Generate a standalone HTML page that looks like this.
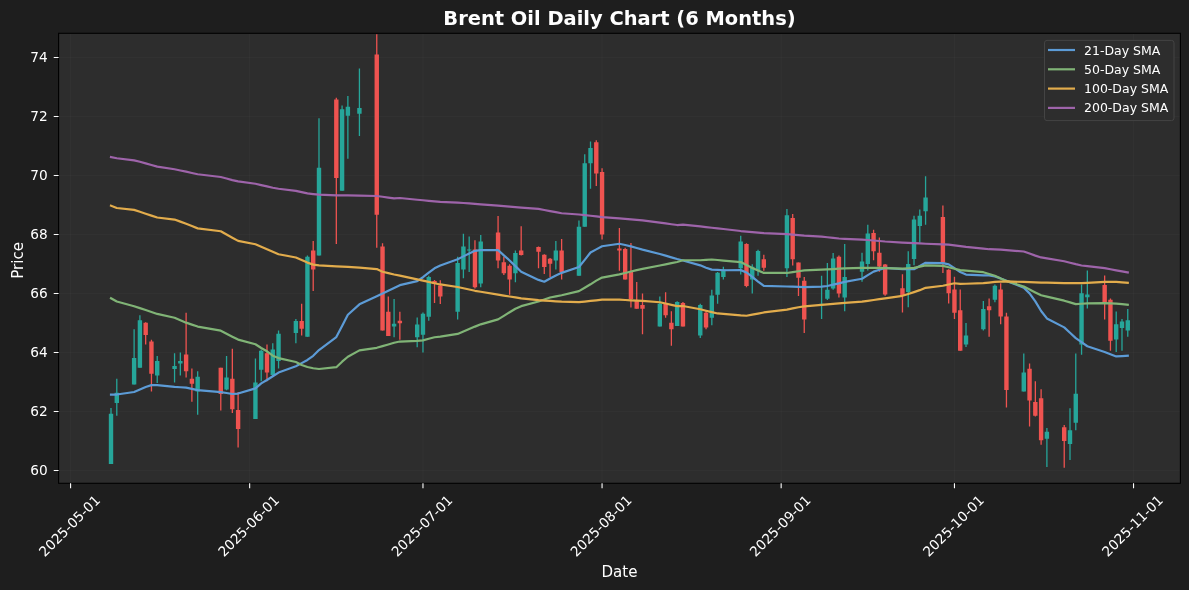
<!DOCTYPE html>
<html><head><meta charset="utf-8"><title>Brent Oil Daily Chart (6 Months)</title>
<style>html,body{margin:0;padding:0;background:#1e1e1e;overflow:hidden}svg{display:block;will-change:transform}</style></head>
<body><svg width="1189" height="590" viewBox="0 0 1189 590">
<rect x="0" y="0" width="1189" height="590" fill="#1e1e1e"/>
<rect x="58.6" y="33.3" width="1121.8" height="450" fill="#2d2d2d"/>
<defs><clipPath id="ax"><rect x="58.6" y="33.3" width="1121.8" height="450"/></clipPath></defs>
<path d="M70.58 33.3V483.3M249.66 33.3V483.3M422.97 33.3V483.3M602.06 33.3V483.3M781.15 33.3V483.3M954.46 33.3V483.3M1133.54 33.3V483.3M58.6 470.46H1180.4M58.6 411.46H1180.4M58.6 352.46H1180.4M58.6 293.46H1180.4M58.6 234.46H1180.4M58.6 175.46H1180.4M58.6 116.46H1180.4M58.6 57.46H1180.4" stroke="#ffffff" stroke-opacity="0.04" stroke-width="0.8" fill="none"/>
<g clip-path="url(#ax)">
<path d="M111.01 408.01V463.94M116.79 378.77V415.63M134.12 329.19V384.62M139.9 315.3V367.84M157.23 355.89V383.1M174.56 353.35V382.59M180.34 352.58V375.47M197.67 371.14V414.87M226.55 355.88V390.21M255.44 358.43V418.94M261.22 349.53V381.32M272.77 343.18V376.23M278.55 330.46V368.6M295.88 319.02V343.18M307.43 255.46V336.82M318.99 118.18V255.46M342.09 105.46V190.63M347.87 96.06V158.86M359.43 68.6V135.97M394.09 299.07V337.2M417.19 317.5V347.37M422.97 312.41V352.45M428.75 275.8V320.68M457.63 256.74V319.41M463.41 233.85V278.35M469.19 236.39V271.99M480.74 235.12V287.25M515.4 250.38V282.16M555.84 240.97V269.45M578.95 220.43V275.77M584.73 154.32V226.79M590.51 141.61V188.65M659.83 296.62V326.62M677.16 301.19V326.11M700.27 303.74V338.06M711.82 289.75V325.35M717.6 271.95V303.74M723.38 266.87V279.58M740.71 235.69V274.5M752.26 264.32V293.56M758.04 249.67V275.77M786.92 208.99V277.04M821.59 275.77V318.99M827.36 263.05V299.92M833.14 252.88V289.75M844.69 243.98V311.36M862.02 252.63V281.87M867.8 224.67V270.43M908.24 251.36V307.3M914.02 215.77V265.35M919.79 209.41V242.46M925.57 176.36V224.67M966.01 322.88V347.04M983.34 300.94V330.51M994.9 284.42V302.21M1023.78 353.39V391.44M1046.89 428.05V466.94M1070 408.22V460.08M1075.77 353.39V430.34M1081.55 284.42V354.67M1087.33 270.43V308.57M1116.21 311.44V352.12M1121.99 319.07V350.85M1127.77 308.9V336.87" stroke="#26a69a" stroke-width="1.3" fill="none"/>
<path d="M108.81 413.85h4.4v50.09h-4.4zM114.59 392.75h4.4v10.17h-4.4zM131.92 357.92h4.4v26.7h-4.4zM137.7 320.3h4.4v47.54h-4.4zM155.03 360.97h4.4v14.49h-4.4zM172.36 366.06h4.4v3.05h-4.4zM178.14 360.97h4.4v2.54h-4.4zM195.47 376.73h4.4v14.75h-4.4zM224.35 377.5h4.4v11.95h-4.4zM253.24 382.58h4.4v36.36h-4.4zM259.02 350.8h4.4v19.07h-4.4zM270.57 349.53h4.4v25.43h-4.4zM276.35 333.77h4.4v27.21h-4.4zM293.68 321.06h4.4v11.95h-4.4zM305.23 256.74h4.4v80.09h-4.4zM316.79 167.76h4.4v87.71h-4.4zM339.89 109.28h4.4v81.35h-4.4zM345.67 106.74h4.4v8.9h-4.4zM357.23 108.01h4.4v5.85h-4.4zM391.89 323.85h4.4v2.54h-4.4zM415 324.49h4.4v12.71h-4.4zM420.77 313.69h4.4v20.97h-4.4zM426.55 277.08h4.4v39.79h-4.4zM455.43 263.09h4.4v48.69h-4.4zM461.21 246.56h4.4v22.88h-4.4zM466.99 249.5h4.4v1h-4.4zM478.54 241.48h4.4v41.95h-4.4zM513.2 252.92h4.4v20.34h-4.4zM553.64 250.38h4.4v10.17h-4.4zM576.75 226.79h4.4v48.98h-4.4zM582.53 163.22h4.4v63.56h-4.4zM588.31 147.97h4.4v15.26h-4.4zM657.63 303.74h4.4v22.88h-4.4zM674.96 301.96h4.4v24.15h-4.4zM698.07 305.01h4.4v30.51h-4.4zM709.62 295.6h4.4v22.12h-4.4zM715.4 272.72h4.4v22.12h-4.4zM721.18 269.41h4.4v7.63h-4.4zM738.51 241.54h4.4v26.6h-4.4zM750.06 266.87h4.4v12.63h-4.4zM755.84 250.94h4.4v19.74h-4.4zM784.72 215.35h4.4v52.79h-4.4zM819.38 303.74h4.4v1.27h-4.4zM825.16 289.75h4.4v8.9h-4.4zM830.94 258.48h4.4v30h-4.4zM842.49 277.04h4.4v20.34h-4.4zM859.82 261.53h4.4v10.17h-4.4zM865.6 233.56h4.4v30.51h-4.4zM906.04 264.08h4.4v27.97h-4.4zM911.82 219.58h4.4v39.41h-4.4zM917.59 215.77h4.4v10.17h-4.4zM923.37 197.46h4.4v13.73h-4.4zM963.81 335.6h4.4v8.9h-4.4zM981.14 308.9h4.4v20.34h-4.4zM992.7 285.69h4.4v13.98h-4.4zM1021.58 372.46h4.4v18.98h-4.4zM1044.69 431.86h4.4v6.86h-4.4zM1067.8 430.34h4.4v13.73h-4.4zM1073.57 393.73h4.4v28.98h-4.4zM1079.35 293.32h4.4v51.18h-4.4zM1085.13 294.59h4.4v2.54h-4.4zM1114.01 324.15h4.4v15.26h-4.4zM1119.79 321.61h4.4v6.36h-4.4zM1125.57 320.34h4.4v10.17h-4.4z" fill="#26a69a"/>
<path d="M145.68 322.33V344.45M151.45 339.87V391.49M186.12 312.67V377.5M191.89 368.6V401.66M220.78 367.83V410.55M232.33 348.76V413.09M238.11 391.99V447.42M266.99 344.45V381.32M301.66 303.77V335.55M313.21 240.97V291.06M336.32 97.84V244.02M376.76 34.27V247.84M382.53 243.26V330.47M388.31 296.52V335.93M399.86 311.78V339.74M434.53 280V303M440.3 280.2V303.9M474.96 240.21V288.52M498.07 216.05V268.18M503.85 256.74V275.04M509.63 264.36V294.87M521.18 226.22V255.46M538.51 246.56V268.18M544.29 254.19V274.02M550.07 258.01V277.08M561.62 238.94V279.62M596.28 140.34V186.11M602.06 168.31V239.5M619.39 228V270.7M625.17 247.8V279.58M630.94 243V307.5M636.72 282.12V308.82M642.5 293.56V334.25M665.61 292.29V317.72M671.38 311.36V345.69M682.94 301.96V326.62M706.05 310.09V329.16M746.48 243.32V287.21M763.82 254.76V270.68M792.7 214.08V265.6M798.48 262.55V296.11M804.25 277.04V332.97M838.92 255.43V297.38M873.58 229.75V260.26M879.36 237.38V271.7M885.13 264.08V295.86M902.46 274.25V312.38M942.9 205.6V272.97M948.68 269.16V303.49M954.46 276.79V319.07M960.23 289.5V350.85M989.12 298.4V336.87M1000.67 283.15V324.15M1006.45 312.71V407.46M1029.56 363.56V426.52M1035.33 381.36V416.61M1041.11 389.15V444.83M1064.22 425V467.71M1104.66 275.4V319.5M1110.44 298.4V350.85" stroke="#ef5350" stroke-width="1.3" fill="none"/>
<path d="M143.48 322.84h4.4v12.2h-4.4zM149.25 341.4h4.4v32.29h-4.4zM183.92 354.62h4.4v16.53h-4.4zM189.69 378.77h4.4v5.09h-4.4zM218.58 367.83h4.4v26.19h-4.4zM230.13 378.77h4.4v30.51h-4.4zM235.91 410.04h4.4v19.07h-4.4zM264.79 353.35h4.4v19.07h-4.4zM299.46 321.06h4.4v7.63h-4.4zM311.01 250.38h4.4v19.07h-4.4zM334.12 99.62h4.4v78.31h-4.4zM374.56 54.61h4.4v160.17h-4.4zM380.33 246.56h4.4v83.91h-4.4zM386.11 311.78h4.4v24.15h-4.4zM397.66 320.68h4.4v2.54h-4.4zM432.33 281h4.4v3h-4.4zM438.1 285.6h4.4v10.8h-4.4zM472.76 249.5h4.4v37.75h-4.4zM495.87 232.58h4.4v27.97h-4.4zM501.65 262.33h4.4v10.93h-4.4zM507.43 265.63h4.4v13.98h-4.4zM518.98 250.38h4.4v4.58h-4.4zM536.31 247.07h4.4v4.58h-4.4zM542.09 254.7h4.4v12.2h-4.4zM547.87 258.77h4.4v5.09h-4.4zM559.42 250.38h4.4v21.61h-4.4zM594.08 142.37h4.4v31.02h-4.4zM599.86 172.12h4.4v62.29h-4.4zM617.19 248.4h4.4v2.1h-4.4zM622.97 249.07h4.4v30.51h-4.4zM628.74 272h4.4v27h-4.4zM634.52 299.92h4.4v8.9h-4.4zM640.3 305.01h4.4v3.81h-4.4zM663.41 303.74h4.4v11.44h-4.4zM669.18 322.8h4.4v6.36h-4.4zM680.74 302.97h4.4v23.65h-4.4zM703.85 312.63h4.4v14.75h-4.4zM744.28 244.08h4.4v41.86h-4.4zM761.62 259.33h4.4v8.3h-4.4zM790.5 217.89h4.4v41.35h-4.4zM796.28 262.55h4.4v15.26h-4.4zM802.05 280.85h4.4v38.65h-4.4zM836.72 256.7h4.4v36.87h-4.4zM871.38 233.06h4.4v18.31h-4.4zM877.15 252.63h4.4v13.98h-4.4zM882.93 264.58h4.4v30h-4.4zM900.26 288.23h4.4v7.63h-4.4zM940.7 217.04h4.4v45.77h-4.4zM946.48 269.67h4.4v23.65h-4.4zM952.26 289.5h4.4v23.21h-4.4zM958.03 310.17h4.4v40.68h-4.4zM986.92 306.36h4.4v3.81h-4.4zM998.47 289.5h4.4v27.03h-4.4zM1004.25 316.53h4.4v73.39h-4.4zM1027.36 368.65h4.4v31.94h-4.4zM1033.13 402.12h4.4v13.73h-4.4zM1038.91 398.3h4.4v41.95h-4.4zM1062.02 427.28h4.4v13.73h-4.4zM1102.46 284.9h4.4v19h-4.4zM1108.24 299.67h4.4v41.01h-4.4z" fill="#ef5350"/>
<path d="M111.01 394.53 L116.79 394.53 L134.12 392.03 L139.9 389.55 L145.68 386.98 L151.45 385.12 L157.23 385.12 L174.56 386.9 L180.34 387.27 L186.12 387.64 L191.89 388.86 L197.67 390.14 L220.78 392.06 L226.55 393.02 L232.33 393.98 L238.11 393.56 L255.44 388.34 L261.22 383.37 L266.99 380 L272.77 376.28 L278.55 372.56 L295.88 366.32 L301.66 363.14 L307.43 359.96 L313.21 355.79 L318.99 350.01 L336.32 337.07 L342.09 325.9 L347.87 314.73 L359.43 304.36 L376.76 296.25 L382.53 293.48 L388.31 290.71 L394.09 287.94 L399.86 285.17 L417.19 281.07 L422.97 277.22 L428.75 272.72 L434.53 268.29 L440.3 265.44 L457.63 259.28 L463.41 256.39 L469.19 253.53 L474.96 250.84 L480.74 250.09 L498.07 250.18 L503.85 255.31 L509.63 260.47 L515.4 266.12 L521.18 271.74 L538.51 279.88 L544.29 281.72 L550.07 278.58 L555.84 275.45 L561.62 272.86 L578.95 266.98 L584.73 259.87 L590.51 252.51 L596.28 249.37 L602.06 246.26 L619.39 243.76 L625.17 245.05 L630.94 246.35 L636.72 247.98 L642.5 249.61 L659.83 253.95 L665.61 255.64 L671.38 257.33 L677.16 259.01 L682.94 260.55 L700.27 265.33 L706.05 267.73 L711.82 269.59 L717.6 269.93 L723.38 270.27 L740.71 270.11 L746.48 272.45 L752.26 276.78 L758.04 281.57 L763.82 285.82 L786.92 286.48 L792.7 286.7 L798.48 286.92 L804.25 287.13 L821.59 286.61 L827.36 286 L833.14 284.67 L838.92 283.35 L844.69 281.86 L862.02 278.73 L867.8 275.14 L873.58 271.62 L879.36 269.74 L885.13 267.9 L902.46 269.16 L908.24 269.16 L914.02 269.16 L919.79 266.02 L925.57 262.8 L942.9 263.08 L948.68 264.32 L954.46 268.2 L960.23 272.07 L966.01 274.6 L983.34 275.3 L989.12 275.3 L994.9 276.5 L1000.67 278.39 L1006.45 280.86 L1023.78 287.68 L1029.56 293.39 L1035.33 301.42 L1041.11 310.99 L1046.89 318.41 L1064.22 327.37 L1070 332.77 L1075.77 338.12 L1081.55 342.17 L1087.33 346.23 L1104.66 351.93 L1110.44 354.19 L1116.21 356.45 L1121.99 356.07 L1127.77 355.69" stroke="#5c9bd6" stroke-opacity="1" stroke-width="2.2" fill="none" stroke-linejoin="round" stroke-linecap="square"/>
<path d="M111.01 298.31 L116.79 301.55 L134.12 306.23 L139.9 308.14 L145.68 310.06 L151.45 311.99 L157.23 313.92 L174.56 317.75 L180.34 320.2 L186.12 322.66 L191.89 324.62 L197.67 326.55 L220.78 330.69 L226.55 333.7 L232.33 336.7 L238.11 339.6 L255.44 344.25 L261.22 348 L266.99 351.29 L272.77 355.65 L278.55 358.11 L295.88 362.02 L301.66 365 L307.43 366.99 L313.21 368.27 L318.99 368.97 L336.32 367.19 L342.09 361.68 L347.87 356.71 L359.43 350.39 L376.76 347.8 L382.53 346.13 L388.31 344.45 L394.09 342.78 L399.86 341.53 L417.19 340.87 L422.97 340.42 L428.75 338.77 L434.53 337.23 L440.3 336.54 L457.63 333.96 L463.41 331.51 L469.19 329.06 L474.96 326.61 L480.74 324.33 L498.07 319.4 L503.85 315.85 L509.63 312.31 L515.4 308.76 L521.18 306.15 L538.51 301.49 L544.29 299.48 L550.07 297.49 L555.84 296.39 L561.62 295.28 L578.95 291.08 L584.73 287.75 L590.51 284.31 L596.28 280.62 L602.06 277.55 L619.39 274.38 L625.17 272.95 L630.94 271.52 L636.72 270.12 L642.5 268.95 L659.83 265.47 L665.61 264.31 L671.38 263.15 L677.16 261.99 L682.94 260.26 L700.27 260.26 L706.05 259.87 L711.82 259.52 L717.6 260.02 L723.38 260.53 L740.71 262.1 L746.48 265.05 L752.26 267.99 L758.04 270.5 L763.82 272.97 L786.92 272.97 L792.7 272.12 L798.48 271.27 L804.25 270.43 L821.59 269.66 L827.36 269.34 L833.14 269.03 L838.92 268.71 L844.69 268.4 L862.02 267.89 L867.8 267.89 L873.58 267.89 L879.36 267.9 L885.13 268.09 L902.46 268.64 L908.24 268.27 L914.02 267.91 L919.79 266.63 L925.57 265.34 L942.9 265.81 L948.68 267.23 L954.46 268.7 L960.23 270.18 L966.01 270.64 L983.34 272.19 L989.12 273.99 L994.9 275.79 L1000.67 278.46 L1006.45 280.91 L1023.78 286.6 L1029.56 289.5 L1035.33 292.4 L1041.11 295.3 L1046.89 296.64 L1064.22 300.69 L1070 302.42 L1075.77 304.09 L1081.55 303.73 L1087.33 303.37 L1104.66 303.06 L1110.44 303.31 L1116.21 303.57 L1121.99 304.21 L1127.77 304.84" stroke="#80b476" stroke-opacity="1" stroke-width="2.2" fill="none" stroke-linejoin="round" stroke-linecap="square"/>
<path d="M111.01 205.7 L116.79 208.01 L134.12 209.89 L139.9 211.75 L145.68 213.68 L151.45 215.6 L157.23 217.53 L174.56 219.58 L180.34 221.66 L186.12 223.75 L191.89 226.05 L197.67 228.36 L220.78 231.27 L226.55 234.51 L232.33 237.76 L238.11 240.9 L255.44 244.25 L261.22 246.76 L266.99 249.27 L272.77 251.78 L278.55 254.29 L295.88 257.47 L301.66 260.04 L307.43 262.6 L313.21 264.63 L318.99 265.36 L336.32 266.38 L342.09 266.63 L347.87 266.89 L359.43 267.6 L376.76 269.05 L382.53 271.76 L388.31 273.15 L394.09 274.53 L399.86 275.58 L417.19 279.35 L422.97 280.63 L428.75 281.92 L434.53 283.2 L440.3 284.46 L457.63 287.03 L463.41 288.29 L469.19 289.54 L474.96 290.79 L480.74 291.75 L498.07 294.6 L503.85 295.56 L509.63 296.51 L515.4 297.46 L521.18 298.41 L538.51 300.19 L544.29 300.57 L550.07 300.96 L555.84 301.34 L561.62 301.72 L578.95 302.2 L584.73 301.57 L590.51 300.93 L596.28 300.3 L602.06 299.67 L619.39 299.68 L625.17 300 L630.94 300.31 L636.72 300.63 L642.5 300.95 L659.83 302.25 L665.61 303.55 L671.38 304.85 L677.16 306.15 L682.94 306.04 L700.27 309.27 L706.05 310.7 L711.82 312.14 L717.6 313.46 L723.38 313.96 L740.71 315.46 L746.48 315.77 L752.26 314.67 L758.04 313.56 L763.82 312.46 L786.92 309.56 L792.7 308.4 L798.48 307.24 L804.25 306.38 L821.59 304.87 L827.36 304.37 L833.14 303.87 L838.92 303.36 L844.69 302.86 L862.02 301.69 L867.8 300.84 L873.58 299.99 L879.36 299.14 L885.13 298.31 L902.46 295.81 L908.24 293.97 L914.02 292.12 L919.79 290.16 L925.57 287.79 L942.9 285.74 L948.68 284.46 L954.46 283.25 L960.23 283.9 L966.01 283.73 L983.34 283.21 L989.12 282.57 L994.9 281.94 L1000.67 281.69 L1006.45 281.45 L1023.78 281.96 L1029.56 282.15 L1035.33 282.34 L1041.11 282.53 L1046.89 282.72 L1064.22 283.22 L1070 283.22 L1075.77 283.22 L1081.55 283.22 L1087.33 282.91 L1104.66 281.95 L1110.44 281.95 L1116.21 281.95 L1121.99 282.34 L1127.77 282.72" stroke="#e2ac4c" stroke-opacity="1" stroke-width="2.2" fill="none" stroke-linejoin="round" stroke-linecap="square"/>
<path d="M111.01 157.09 L116.79 158.24 L134.12 160.31 L139.9 161.8 L145.68 163.34 L151.45 165.01 L157.23 166.68 L174.56 169.24 L180.34 170.46 L186.12 171.69 L191.89 172.97 L197.67 174.26 L220.78 176.98 L226.55 178.55 L232.33 180.11 L238.11 181.33 L255.44 183.73 L261.22 185.07 L266.99 186.41 L272.77 187.75 L278.55 188.77 L295.88 190.85 L301.66 192.14 L307.43 193.41 L313.21 194.05 L318.99 194.68 L336.32 195.43 L342.09 195.43 L347.87 195.43 L359.43 195.56 L376.76 195.98 L382.53 196.77 L388.31 197.56 L394.09 198.35 L399.86 198 L417.19 199.75 L422.97 200.27 L428.75 200.78 L434.53 201.3 L440.3 201.8 L457.63 202.57 L463.41 203.02 L469.19 203.46 L474.96 203.9 L480.74 204.35 L498.07 205.6 L503.85 206.11 L509.63 206.62 L515.4 207.13 L521.18 207.64 L538.51 208.92 L544.29 210.01 L550.07 211.1 L555.84 212.2 L561.62 213.25 L578.95 214.51 L584.73 215.14 L590.51 215.78 L596.28 216.41 L602.06 217.04 L619.39 218.32 L625.17 218.83 L630.94 219.34 L636.72 219.84 L642.5 220.36 L659.83 222.65 L665.61 223.45 L671.38 224.24 L677.16 225.03 L682.94 224.67 L700.27 226.46 L706.05 227.09 L711.82 227.73 L717.6 228.36 L723.38 229 L740.71 231.03 L746.48 231.54 L752.26 232.05 L758.04 232.56 L763.82 233.06 L786.92 234.08 L792.7 234.59 L798.48 235.1 L804.25 235.6 L821.59 236.63 L827.36 237.25 L833.14 237.87 L838.92 238.48 L844.69 238.82 L862.02 239.64 L867.8 240.01 L873.58 240.51 L879.36 241.01 L885.13 241.51 L902.46 242.58 L908.24 242.87 L914.02 243.16 L919.79 243.45 L925.57 243.73 L942.9 244.39 L948.68 244.62 L954.46 245.4 L960.23 246.18 L966.01 246.95 L983.34 248.66 L989.12 249.22 L994.9 249.47 L1000.67 249.67 L1006.45 250.12 L1023.78 251.49 L1029.56 253.56 L1035.33 255.63 L1041.11 257.46 L1046.89 258.32 L1064.22 261.28 L1070 262.72 L1075.77 264.17 L1081.55 265.48 L1087.33 266.05 L1104.66 268.11 L1110.44 269.22 L1116.21 270.34 L1121.99 271.45 L1127.77 272.5" stroke="#9e64aa" stroke-opacity="1" stroke-width="2.2" fill="none" stroke-linejoin="round" stroke-linecap="square"/>
</g>
<rect x="58.6" y="33.3" width="1121.8" height="450" fill="none" stroke="#000" stroke-width="1.1"/>
<path d="M70.58 483.3v4.86M249.66 483.3v4.86M422.97 483.3v4.86M602.06 483.3v4.86M781.15 483.3v4.86M954.46 483.3v4.86M1133.54 483.3v4.86M58.6 470.46h-4.86M58.6 411.46h-4.86M58.6 352.46h-4.86M58.6 293.46h-4.86M58.6 234.46h-4.86M58.6 175.46h-4.86M58.6 116.46h-4.86M58.6 57.46h-4.86" stroke="#fff" stroke-width="1.1"/>
<text x="47.7" y="475.46" fill="#fff" font-size="13.7" text-anchor="end" font-family="'DejaVu Sans', 'Liberation Sans', sans-serif">60</text>
<text x="47.7" y="416.46" fill="#fff" font-size="13.7" text-anchor="end" font-family="'DejaVu Sans', 'Liberation Sans', sans-serif">62</text>
<text x="47.7" y="357.46" fill="#fff" font-size="13.7" text-anchor="end" font-family="'DejaVu Sans', 'Liberation Sans', sans-serif">64</text>
<text x="47.7" y="298.46" fill="#fff" font-size="13.7" text-anchor="end" font-family="'DejaVu Sans', 'Liberation Sans', sans-serif">66</text>
<text x="47.7" y="239.46" fill="#fff" font-size="13.7" text-anchor="end" font-family="'DejaVu Sans', 'Liberation Sans', sans-serif">68</text>
<text x="47.7" y="180.46" fill="#fff" font-size="13.7" text-anchor="end" font-family="'DejaVu Sans', 'Liberation Sans', sans-serif">70</text>
<text x="47.7" y="121.46" fill="#fff" font-size="13.7" text-anchor="end" font-family="'DejaVu Sans', 'Liberation Sans', sans-serif">72</text>
<text x="47.7" y="62.46" fill="#fff" font-size="13.7" text-anchor="end" font-family="'DejaVu Sans', 'Liberation Sans', sans-serif">74</text>
<text transform="translate(69.67 526.02) rotate(-45)" x="0" y="4.6" fill="#fff" font-size="13.7" text-anchor="middle" font-family="'DejaVu Sans', 'Liberation Sans', sans-serif">2025-05-01</text>
<text transform="translate(248.76 526.02) rotate(-45)" x="0" y="4.6" fill="#fff" font-size="13.7" text-anchor="middle" font-family="'DejaVu Sans', 'Liberation Sans', sans-serif">2025-06-01</text>
<text transform="translate(422.07 526.02) rotate(-45)" x="0" y="4.6" fill="#fff" font-size="13.7" text-anchor="middle" font-family="'DejaVu Sans', 'Liberation Sans', sans-serif">2025-07-01</text>
<text transform="translate(601.16 526.02) rotate(-45)" x="0" y="4.6" fill="#fff" font-size="13.7" text-anchor="middle" font-family="'DejaVu Sans', 'Liberation Sans', sans-serif">2025-08-01</text>
<text transform="translate(780.25 526.02) rotate(-45)" x="0" y="4.6" fill="#fff" font-size="13.7" text-anchor="middle" font-family="'DejaVu Sans', 'Liberation Sans', sans-serif">2025-09-01</text>
<text transform="translate(953.56 526.02) rotate(-45)" x="0" y="4.6" fill="#fff" font-size="13.7" text-anchor="middle" font-family="'DejaVu Sans', 'Liberation Sans', sans-serif">2025-10-01</text>
<text transform="translate(1132.64 526.02) rotate(-45)" x="0" y="4.6" fill="#fff" font-size="13.7" text-anchor="middle" font-family="'DejaVu Sans', 'Liberation Sans', sans-serif">2025-11-01</text>
<text x="619.5" y="576.9" fill="#fff" font-size="15.1" text-anchor="middle" font-family="'DejaVu Sans', 'Liberation Sans', sans-serif">Date</text>
<text transform="translate(23.3 260.4) rotate(-90)" fill="#fff" font-size="15.1" text-anchor="middle" font-family="'DejaVu Sans', 'Liberation Sans', sans-serif">Price</text>
<text x="619.5" y="24.9" fill="#fff" font-size="19.44" font-weight="bold" text-anchor="middle" font-family="'DejaVu Sans', 'Liberation Sans', sans-serif">Brent Oil Daily Chart (6 Months)</text>
<rect x="1044.5" y="40.4" width="129.5" height="80.2" rx="2.5" fill="#2d2d2d" fill-opacity="0.8" stroke="#444" stroke-width="1"/>
<path d="M1048 50H1075" stroke="#5c9bd6" stroke-opacity="1" stroke-width="2.2"/>
<text x="1084" y="54.5" fill="#fff" font-size="12.5" font-family="'DejaVu Sans', 'Liberation Sans', sans-serif">21-Day SMA</text>
<path d="M1048 69.3H1075" stroke="#80b476" stroke-opacity="1" stroke-width="2.2"/>
<text x="1084" y="73.8" fill="#fff" font-size="12.5" font-family="'DejaVu Sans', 'Liberation Sans', sans-serif">50-Day SMA</text>
<path d="M1048 88.6H1075" stroke="#e2ac4c" stroke-opacity="1" stroke-width="2.2"/>
<text x="1084" y="93.1" fill="#fff" font-size="12.5" font-family="'DejaVu Sans', 'Liberation Sans', sans-serif">100-Day SMA</text>
<path d="M1048 107.9H1075" stroke="#9e64aa" stroke-opacity="1" stroke-width="2.2"/>
<text x="1084" y="112.4" fill="#fff" font-size="12.5" font-family="'DejaVu Sans', 'Liberation Sans', sans-serif">200-Day SMA</text>
</svg></body></html>
